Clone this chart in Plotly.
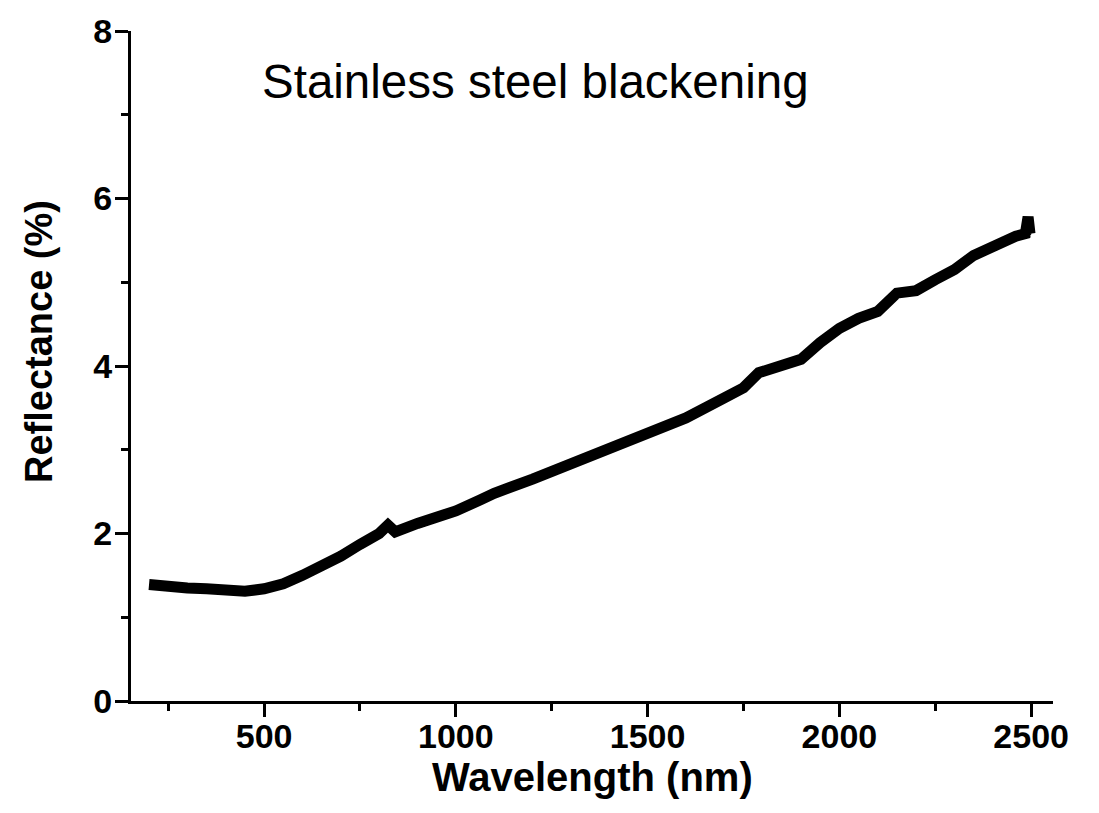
import plotly.graph_objects as go

wavelength = [200, 250, 300, 350, 400, 450, 500, 550, 600, 650, 700, 750, 800, 823, 842,
              900, 950, 1000, 1063, 1100, 1200, 1300, 1400, 1500, 1600, 1700, 1750, 1790,
              1850, 1900, 1950, 2000, 2050, 2100, 2150, 2200, 2250, 2300, 2350, 2400, 2460,
              2485, 2492, 2497, 2500]
reflectance = [1.39, 1.36, 1.35, 1.34, 1.33, 1.31, 1.34, 1.40, 1.50, 1.60, 1.73, 1.87, 2.00,
               2.10, 2.02, 2.12, 2.19, 2.27, 2.40, 2.48, 2.65, 2.83, 3.02, 3.20, 3.38, 3.62,
               3.74, 3.92, 4.00, 4.08, 4.28, 4.45, 4.57, 4.65, 4.87, 4.90, 5.03, 5.15, 5.32,
               5.43, 5.55, 5.58, 5.78, 5.58, 5.57]

x_ticks = [500, 1000, 1500, 2000, 2500]
y_ticks = [0, 2, 4, 6, 8]

FONT = "Liberation Sans, Arial, sans-serif"

fig = go.Figure()
fig.add_trace(go.Scatter(x=wavelength, y=reflectance, mode="lines",
                         line=dict(color="black", width=11), showlegend=False))

axis_common = dict(showline=True, linecolor="black", linewidth=3, ticks="outside",
                   ticklen=13, tickwidth=3, tickcolor="black", showgrid=False,
                   zeroline=False, mirror=False,
                   tickfont=dict(family=FONT, size=34, color="black", weight="bold"))

fig.update_xaxes(range=[153, 2557], tickvals=x_ticks, ticklabelstandoff=-10,
                 minor=dict(ticks="outside", ticklen=7, tickwidth=3, tickcolor="black",
                            dtick=250, tick0=0, showgrid=False),
                 **axis_common)
fig.update_yaxes(range=[0, 8], tickvals=y_ticks, ticklabelstandoff=-4,
                 minor=dict(ticks="outside", ticklen=7, tickwidth=3, tickcolor="black",
                            dtick=1, tick0=0, showgrid=False),
                 **axis_common)

fig.add_annotation(text="Wavelength (nm)", xref="paper", yref="paper", x=0.5, y=-0.113,
                   xanchor="center", yanchor="middle", showarrow=False,
                   font=dict(family=FONT, size=40, color="black", weight="bold"))
fig.add_annotation(text="Reflectance (%)", xref="paper", yref="paper", x=-0.1, y=0.537,
                   xanchor="center", yanchor="middle", textangle=-90, showarrow=False,
                   font=dict(family=FONT, size=38, color="black", weight="bold"))
fig.add_annotation(text="Stainless steel blackening", xref="x", yref="y", x=490, y=7.4,
                   xanchor="left", yanchor="middle", showarrow=False,
                   font=dict(family=FONT, size=47.5, color="black"))

fig.update_layout(width=1099, height=813, plot_bgcolor="white", paper_bgcolor="white",
                  margin=dict(l=131, r=46, t=24, b=112))

fig.write_html("out.html")
